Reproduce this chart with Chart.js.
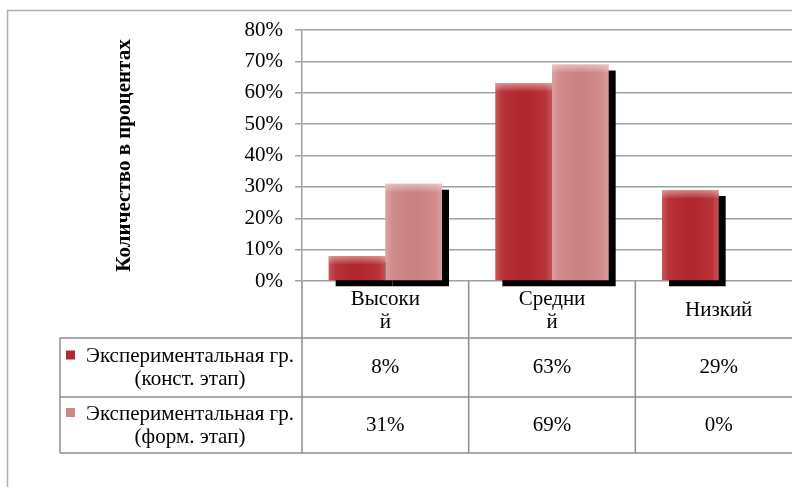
<!DOCTYPE html>
<html>
<head>
<meta charset="utf-8">
<script src="https://cdn.jsdelivr.net/npm/chart.js@4/dist/chart.umd.min.js"></script>
<style>
  html, body { margin: 0; padding: 0; background: #fff; overflow: hidden; }
  #wrap { width: 810px; height: 487px; }
</style>
</head>
<body>
<div id="wrap"><canvas id="levels-chart"></canvas></div>
<script>
// Data
const categories = [['Высоки', 'й'], ['Средни', 'й'], ['Низкий']];
const seriesNames = [
    ['Экспериментальная гр.', '(конст. этап)'],
    ['Экспериментальная гр.', '(форм. этап)'],
];
const constValues = [8, 63, 29];
const formValues = [31, 69, 0];
const yTicks = [0, 10, 20, 30, 40, 50, 60, 70, 80];
const yTitle = 'Количество в процентах';

const colors = ['#b5282e', '#d08686'];
const gridGray = '#a0a0a0';
const serif = "'Liberation Serif', 'Times New Roman', serif";
const fontSize = 21;

// Outer frame, data table and the y title
const tablePlugin = {
    id: 'dataTable',
    afterDraw(chart) {
        const ctx = chart.ctx;
        const x = chart.scales.x;
        const area = chart.chartArea;
        const rows = [area.bottom, 338, 397, 453];
        const tableLeft = 60;
        const right = chart.width;

        ctx.save();
        // frame
        ctx.strokeStyle = '#b0b0b0';
        ctx.lineWidth = 1.5;
        ctx.beginPath();
        ctx.moveTo(7.5, chart.height);
        ctx.lineTo(7.5, 10.5);
        ctx.lineTo(right, 10.5);
        ctx.stroke();

        // table lines
        ctx.strokeStyle = '#8f8f8f';
        ctx.lineWidth = 1.5;
        ctx.beginPath();
        for (let r = 1; r < rows.length; r++) {
            ctx.moveTo(tableLeft, rows[r]);
            ctx.lineTo(right, rows[r]);
        }
        ctx.moveTo(tableLeft, rows[1]);
        ctx.lineTo(tableLeft, rows[3]);
        const step = (area.right - area.left) / categories.length;
        for (let i = 0; i <= categories.length; i++) {
            const cx = area.left + i * step;
            ctx.moveTo(cx, rows[0]);
            ctx.lineTo(cx, rows[3]);
        }
        ctx.stroke();

        ctx.fillStyle = '#000';
        ctx.font = fontSize + 'px ' + serif;
        ctx.textAlign = 'center';
        ctx.textBaseline = 'middle';

        // header row: category labels
        categories.forEach((lines, i) => {
            const cx = x.getPixelForValue(i);
            const mid = (rows[0] + rows[1]) / 2 + 1;
            const lh = 23;
            const start = mid - (lines.length - 1) * lh / 2;
            lines.forEach((t, k) => ctx.fillText(t, cx, start + k * lh));
        });

        // value rows
        const allValues = [constValues, formValues];
        allValues.forEach((vals, r) => {
            const mid = (rows[r + 1] + rows[r + 2]) / 2;
            vals.forEach((v, i) => {
                ctx.fillText(v + '%', x.getPixelForValue(i), mid);
            });
            // legend key + name
            const names = seriesNames[r];
            ctx.fillStyle = colors[r];
            ctx.fillRect(66, mid - 17, 9, 9);
            ctx.fillStyle = '#000';
            ctx.fillText(names[0], 190, mid - 11);
            ctx.fillText(names[1], 190, mid + 12);
        });

        // y axis title
        ctx.font = 'bold ' + fontSize + 'px ' + serif;
        ctx.translate(125, (area.top + area.bottom) / 2);
        ctx.rotate(-Math.PI / 2);
        ctx.fillText(yTitle, 0, 0);
        ctx.restore();
    },
};

// Black drop shadow under the bars, and a light bevel over them
const barLookPlugin = {
    id: 'barLook',
    beforeDatasetsDraw(chart) {
        const ctx = chart.ctx;
        ctx.save();
        ctx.fillStyle = '#000';
        chart.data.datasets.forEach((ds, d) => {
            chart.getDatasetMeta(d).data.forEach((bar) => {
                const p = bar.getProps(['x', 'y', 'base', 'width'], true);
                if (p.base - p.y < 1) return;
                ctx.fillRect(p.x - p.width / 2 + 7, p.y + 6, p.width, p.base - p.y);
            });
        });
        ctx.restore();
    },
    afterDatasetsDraw(chart) {
        const ctx = chart.ctx;
        ctx.save();
        chart.data.datasets.forEach((ds, d) => {
            chart.getDatasetMeta(d).data.forEach((bar) => {
                const p = bar.getProps(['x', 'y', 'base', 'width'], true);
                const h = p.base - p.y;
                if (h < 1) return;
                const left = p.x - p.width / 2;
                const g = ctx.createLinearGradient(left, 0, left + p.width, 0);
                g.addColorStop(0, 'rgba(255,255,255,0.22)');
                g.addColorStop(0.12, 'rgba(255,255,255,0.05)');
                g.addColorStop(0.5, 'rgba(0,0,0,0.03)');
                g.addColorStop(0.88, 'rgba(255,255,255,0.05)');
                g.addColorStop(1, 'rgba(255,255,255,0.2)');
                ctx.fillStyle = g;
                ctx.fillRect(left, p.y, p.width, h);
                const bevel = Math.min(8, h);
                const t = ctx.createLinearGradient(0, p.y, 0, p.y + bevel);
                t.addColorStop(0, 'rgba(255,255,255,0.45)');
                t.addColorStop(1, 'rgba(255,255,255,0.05)');
                ctx.fillStyle = t;
                ctx.fillRect(left, p.y, p.width, bevel);
            });
        });
        ctx.restore();
    },
};

const ctx = document.getElementById('levels-chart').getContext('2d');
new Chart(ctx, {
    type: 'bar',
    data: {
        labels: categories,
        datasets: [
            {
                label: seriesNames[0].join(' '),
                data: constValues,
                backgroundColor: colors[0],
                borderWidth: 0,
            },
            {
                label: seriesNames[1].join(' '),
                data: formValues,
                backgroundColor: colors[1],
                borderWidth: 0,
            },
        ],
    },
    options: {
        responsive: true,
        maintainAspectRatio: false,
        animation: false,
        datasets: {
            bar: { categoryPercentage: 0.68, barPercentage: 1.0 },
        },
        layout: {
            padding: { left: 114, top: 30, right: 8, bottom: 206 },
        },
        plugins: {
            legend: { display: false },
            tooltip: { enabled: false },
        },
        scales: {
            x: {
                display: true,
                grid: { display: false, drawTicks: false },
                border: { display: false },
                ticks: { display: false },
            },
            y: {
                min: 0,
                max: 80,
                afterFit: (scale) => { scale.width = 188; },
                afterBuildTicks: (scale) => {
                    scale.ticks = yTicks.map(v => ({ value: v }));
                },
                ticks: {
                    color: '#000',
                    padding: 12,
                    font: { family: serif, size: fontSize },
                    callback: (v) => v + '%',
                },
                grid: {
                    color: gridGray,
                    lineWidth: 1.5,
                    tickLength: 7,
                },
                border: { color: gridGray, width: 1.5 },
            },
        },
    },
    plugins: [tablePlugin, barLookPlugin],
});
</script>
</body>
</html>
